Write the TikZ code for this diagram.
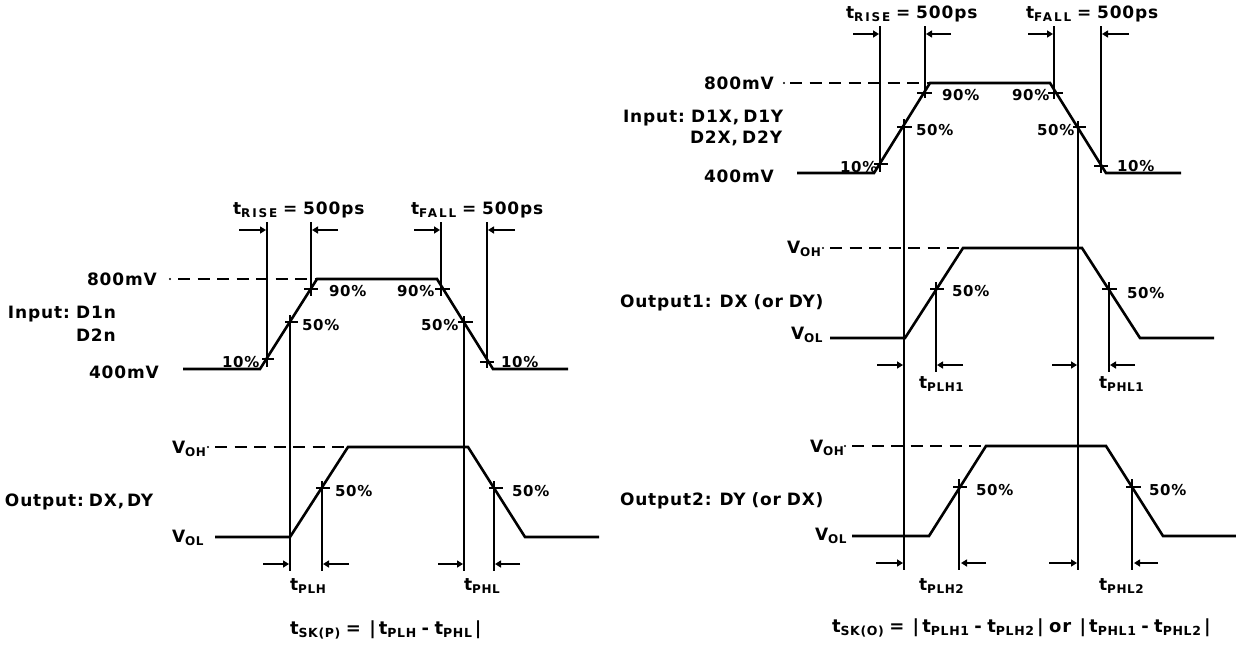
\documentclass[tikz,border=0pt]{standalone}
\usepackage{fontspec}
\setmainfont{DejaVu Sans}[LetterSpace=5]
\newfontfamily\widesub{DejaVu Sans}[LetterSpace=16]
\usetikzlibrary{arrows.meta}
\tikzset{
  lbl/.style={anchor=base west,inner sep=0pt,outer sep=0pt,font=\fontsize{17}{18}\selectfont\bfseries},
  eqn/.style={anchor=base west,inner sep=0pt,outer sep=0pt,font=\fontsize{18}{20}\selectfont\bfseries},
  pct/.style={anchor=base west,inner sep=0pt,outer sep=0pt,font=\fontsize{15}{16}\selectfont\bfseries},
  wave/.style={line width=2.6pt,line join=miter},
  guide/.style={line width=2.6pt},
  tickmark/.style={line width=2.5pt},
  dashline/.style={line width=2.4pt,dash pattern=on 12pt off 7.5pt},
  mark arrow/.style={line width=2.4pt,-{Triangle[length=6pt,width=7pt]},shorten >=0pt},
  dotmark/.style={fill=black,draw=none}
}
\newcommand{\sbs}[1]{\raisebox{-3.5pt}{\fontsize{12}{13}\selectfont\bfseries #1}}
\newcommand{\sbw}[1]{\raisebox{-3.5pt}{\fontsize{12}{13}\selectfont\widesub\bfseries #1}}
\newcommand{\sbl}[1]{\raisebox{-3.5pt}{\fontsize{12.5}{14}\selectfont\bfseries #1}}
\newcommand{\lb}[4]{\node[lbl] (#1) at (#2,#3) {\spaceskip=0.24em\relax #4};}
\newcommand{\lbwide}[4]{\node[lbl] (#1) at (#2,#3) {\spaceskip=0.34em\relax #4};}
\newcommand{\lbtight}[4]{\node[lbl] (#1) at (#2,#3) {\spaceskip=0.16em\relax #4};}
\newcommand{\pc}[4]{\node[pct] (#1) at (#2,#3) {#4};}
\newcommand{\ar}[3]{\draw[mark arrow] (#1,#3) -- (#2,#3);}
\begin{document}
\begin{tikzpicture}[x=1pt,y=-1pt]
\useasboundingbox (0,0) rectangle (1236,646);
% ---------- left: input
\draw[dashline] (178,279) -- (316,279);
\fill[dotmark] (170,279) circle (1.2);
\draw[wave] (183,369) -- (260,369) -- (317,279) -- (437,279) -- (493,369) -- (568,369);
\draw[guide] (267,222) -- (267,367);
\draw[guide] (311,222) -- (311,296);
\draw[guide] (441,222) -- (441,296);
\draw[guide] (487,222) -- (487,368);
\draw[guide] (290,315) -- (290,571);
\draw[guide] (464,316) -- (464,571);
\draw[tickmark] (262,359) -- (274,359);
\draw[tickmark] (304,289) -- (318,289);
\draw[tickmark] (285,322) -- (298,322);
\draw[tickmark] (435,289) -- (450,289);
\draw[tickmark] (458,322) -- (473,322);
\draw[tickmark] (480,362) -- (494,362);
\ar{239}{266}{230} \ar{338}{312}{230} \ar{414}{440}{230} \ar{515}{488}{230}
\lbwide{lriseL}{233}{214}{t\sbw{RISE} = 500ps}
\lbwide{lfallL}{411}{214}{t\sbw{FALL} = 500ps}
\lb{l800}{87}{285}{800mV}
\lb{l400}{89}{378}{400mV}
\lb{linA}{8}{318}{Input: D1n}
\lb{linB}{76}{341}{D2n}
\pc{la}{222}{367}{10\%}
\pc{lb}{302}{330}{50\%}
\pc{lc}{329}{296}{90\%}
\pc{ld}{397}{296}{90\%}
\pc{le}{421}{330}{50\%}
\pc{lf}{501}{367}{10\%}
% ---------- left: output
\draw[dashline] (215,447) -- (348,447);
\fill[dotmark] (208,447) circle (1.2);
\draw[wave] (215,537) -- (290,537) -- (348,447) -- (468,447) -- (525,537) -- (599,537);
\draw[tickmark] (316,488) -- (330,488);
\draw[tickmark] (489,488) -- (503,488);
\draw[guide] (322,481) -- (322,571);
\draw[guide] (494,481) -- (494,571);
\ar{263}{289}{564} \ar{349}{323}{564} \ar{438}{463}{564} \ar{520}{495}{564}
\lb{lvoh}{172}{453}{V\sbs{OH}}
\lb{lvol}{172}{542}{V\sbs{OL}}
\pc{lg}{335}{496}{50\%}
\pc{lh}{512}{496}{50\%}
\lbtight{lout}{5}{506}{Output: DX, DY}
\lb{ltplh}{290}{590}{t\sbs{PLH}}
\lb{ltphl}{464}{590}{t\sbs{PHL}}
\node[eqn] (lskew) at (290,634) {\spaceskip=0.3em\relax t\sbl{SK(P)} = \,|\,t\sbl{PLH} - t\sbl{PHL}\,|};
% ---------- right: input
\draw[dashline] (790,83) -- (930,83);
\fill[dotmark] (784,83) circle (1.2);
\draw[wave] (797,173) -- (874,173) -- (930,83) -- (1050,83) -- (1106,173) -- (1181,173);
\draw[guide] (880,26) -- (880,172);
\draw[guide] (925,26) -- (925,98);
\draw[guide] (1054,26) -- (1054,99);
\draw[guide] (1101,26) -- (1101,173);
\draw[guide] (904,119) -- (904,570);
\draw[guide] (1078,121) -- (1078,570);
\draw[tickmark] (874,164) -- (888,164);
\draw[tickmark] (917,93) -- (932,93);
\draw[tickmark] (897,127) -- (912,127);
\draw[tickmark] (1048,93) -- (1063,93);
\draw[tickmark] (1073,127) -- (1086,127);
\draw[tickmark] (1094,166) -- (1108,166);
\ar{853}{879}{34} \ar{951}{926}{34} \ar{1028}{1053}{34} \ar{1129}{1102}{34}
\lbwide{rrise}{846}{18}{t\sbw{RISE} = 500ps}
\lbwide{rfall}{1026}{18}{t\sbw{FALL} = 500ps}
\lb{r800}{704}{89}{800mV}
\lb{r400}{704}{182}{400mV}
\lb{rinA}{623}{122}{Input: D1X, D1Y}
\lb{rinB}{690}{143}{D2X, D2Y}
\pc{ra}{840}{172}{10\%}
\pc{rb}{916}{135}{50\%}
\pc{rc}{942}{100}{90\%}
\pc{rd}{1012}{100}{90\%}
\pc{re}{1037}{135}{50\%}
\pc{rf}{1117}{171}{10\%}
% ---------- right: output 1
\draw[dashline] (830,248) -- (963,248);
\fill[dotmark] (823,248) circle (1.2);
\draw[wave] (830,338) -- (905,338) -- (963,248) -- (1082,248) -- (1140,338) -- (1214,338);
\draw[tickmark] (930,289) -- (944,289);
\draw[tickmark] (1102,289) -- (1117,289);
\draw[guide] (936,282) -- (936,372);
\draw[guide] (1109,282) -- (1109,372);
\ar{877}{903}{365} \ar{963}{937}{365} \ar{1052}{1077}{365} \ar{1135}{1110}{365}
\lb{rvoha}{787}{253}{V\sbs{OH}}
\lb{rvola}{791}{339}{V\sbs{OL}}
\pc{rg}{952}{296}{50\%}
\pc{rh}{1127}{298}{50\%}
\lbwide{routa}{620}{307}{Output1: DX (or DY)}
\lb{rtplha}{919}{388}{t\sbs{PLH1}}
\lb{rtphla}{1099}{388}{t\sbs{PHL1}}
% ---------- right: output 2
\draw[dashline] (852,446) -- (986,446);
\fill[dotmark] (845,446) circle (1.2);
\draw[wave] (852,536) -- (929,536) -- (986,446) -- (1106,446) -- (1163,536) -- (1236,536);
\draw[tickmark] (953,487) -- (967,487);
\draw[tickmark] (1126,487) -- (1141,487);
\draw[guide] (959,479) -- (959,570);
\draw[guide] (1132,479) -- (1132,570);
\ar{876}{903}{563} \ar{986}{961}{563} \ar{1049}{1077}{563} \ar{1158}{1134}{563}
\lb{rvohb}{810}{452}{V\sbs{OH}}
\lb{rvolb}{815}{540}{V\sbs{OL}}
\pc{ri}{976}{495}{50\%}
\pc{rj}{1149}{495}{50\%}
\lbwide{routb}{620}{505}{Output2: DY (or DX)}
\lb{rtplhb}{919}{590}{t\sbs{PLH2}}
\lb{rtphlb}{1099}{590}{t\sbs{PHL2}}
\node[eqn] (rskew) at (832,632) {\spaceskip=0.3em\relax t\sbl{SK(O)} = \,|\,t\sbl{PLH1} - t\sbl{PLH2}\,| or \,|\,t\sbl{PHL1} - t\sbl{PHL2}\,|};
\end{tikzpicture}
\end{document}
